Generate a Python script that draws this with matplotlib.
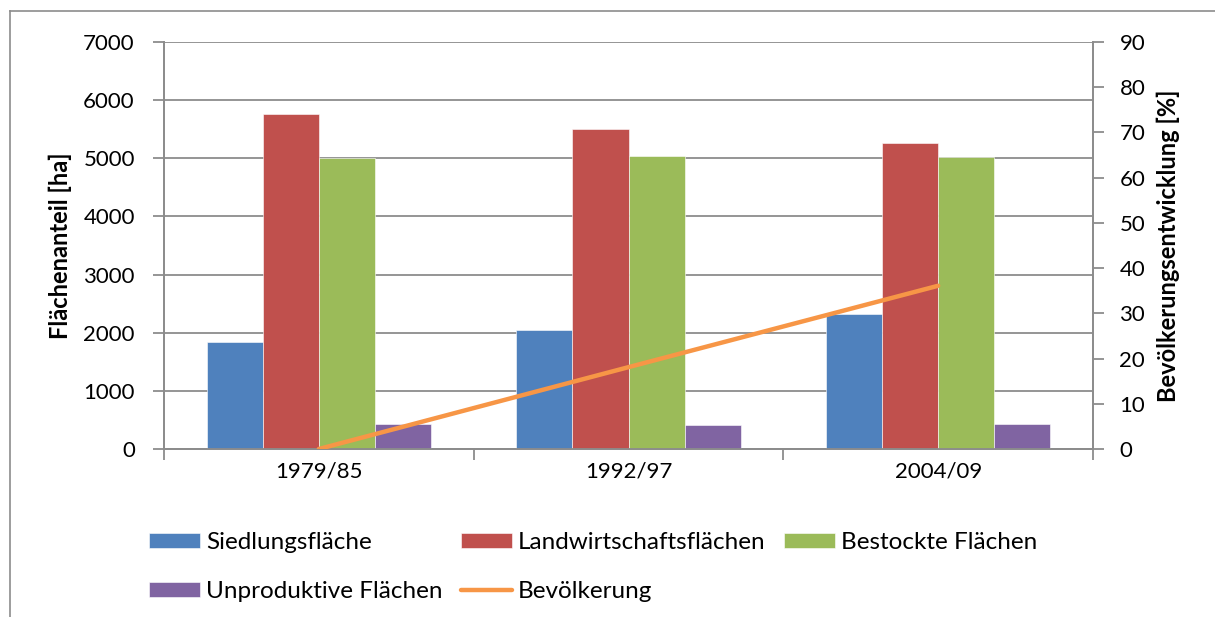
import matplotlib.pyplot as plt
import numpy as np
from matplotlib.lines import Line2D

# values
periods = ["1979/85", "1992/97", "2004/09"]
siedlung = [1835, 2055, 2320]
landwirtschaft = [5760, 5505, 5265]
bestockt = [5000, 5045, 5025]
unproduktiv = [430, 410, 430]
bevoelkerung = [0, 18.1, 36.1]

series = [
    ("Siedlungsfläche", siedlung, "#4F81BD"),
    ("Landwirtschaftsflächen", landwirtschaft, "#C0504D"),
    ("Bestockte Flächen", bestockt, "#9BBB59"),
    ("Unproduktive Flächen", unproduktiv, "#8064A2"),
]
LINE_COLOR = "#F79646"
GRID_COLOR = "#8C8C8C"

plt.rcParams["font.family"] = ["Lato", "DejaVu Sans"]

W, H = 1215, 617
fig = plt.figure(figsize=(W / 100, H / 100), dpi=100)
ax = fig.add_axes([164 / W, 1 - 449 / H, (1093 - 164) / W, (449 - 42) / H])
ax2 = ax.twinx()

x = np.arange(len(periods))
width = 0.181
handles = {}
for i, (name, vals, color) in enumerate(series):
    offset = (i - 1.5) * width
    handles[name] = ax.bar(x + offset, vals, width, color=color, edgecolor="white",
                           linewidth=0.4, zorder=3, label=name)

(line,) = ax2.plot(x, bevoelkerung, color=LINE_COLOR, linewidth=3.2,
                   solid_capstyle="round", label="Bevölkerung", zorder=4)

ax.set_xlim(-0.5, 2.5)
ax.set_ylim(0, 7000)
ax2.set_ylim(0, 90)
ax.set_yticks(np.arange(0, 7001, 1000))
ax2.set_yticks(np.arange(0, 91, 10))

ax.yaxis.grid(True, color=GRID_COLOR, linewidth=1.3, zorder=0)
ax.set_axisbelow(True)

# category axis: ticks between the groups, labels at centers
ax.set_xticks(x)
ax.set_xticklabels(periods, fontsize=16)
ax.tick_params(axis="x", length=0, pad=9)
ax.set_xticks(np.arange(-0.5, 2.6, 1), minor=True)
ax.tick_params(axis="x", which="minor", length=8, width=1.3, color=GRID_COLOR)

ax.tick_params(axis="y", length=8, width=1.3, color=GRID_COLOR, labelsize=16, pad=13)
ax2.tick_params(axis="y", length=8, width=1.3, color=GRID_COLOR, labelsize=16, pad=11)

for a in (ax, ax2):
    a.spines["top"].set_visible(False)
    for side in ("left", "right", "bottom"):
        a.spines[side].set_color(GRID_COLOR)
        a.spines[side].set_linewidth(1.3)

ax.set_ylabel("Flächenanteil [ha]", fontsize=17, fontweight="bold", labelpad=8)
ax2.set_ylabel("Bevölkerungsentwicklung [%]", fontsize=17, fontweight="bold", labelpad=8)

# legend, row-wise order like the original
order = ["Siedlungsfläche", "Unproduktive Flächen", "Landwirtschaftsflächen",
         None, "Bestockte Flächen"]
leg_handles = []
leg_labels = []
for name in order:
    if name is None:
        leg_handles.append(line)
        leg_labels.append("Bevölkerung")
    else:
        leg_handles.append(handles[name])
        leg_labels.append(name)
fig.legend(leg_handles, leg_labels, ncol=3, frameon=False, fontsize=17.5,
           loc="upper left", bbox_to_anchor=(149 / W, 1 - 532 / H),
           borderaxespad=0, borderpad=0, handlelength=2.1, handleheight=0.58,
           handletextpad=0.25, columnspacing=0.75, labelspacing=1.15)

# outer chart frame
fig.add_artist(Line2D([10 / W, 1], [1 - 11 / H, 1 - 11 / H], transform=fig.transFigure,
                      color=GRID_COLOR, linewidth=1.2))
fig.add_artist(Line2D([10 / W, 10 / W], [0, 1 - 11 / H], transform=fig.transFigure,
                      color=GRID_COLOR, linewidth=1.2))

fig.savefig("out.png", dpi=100)
